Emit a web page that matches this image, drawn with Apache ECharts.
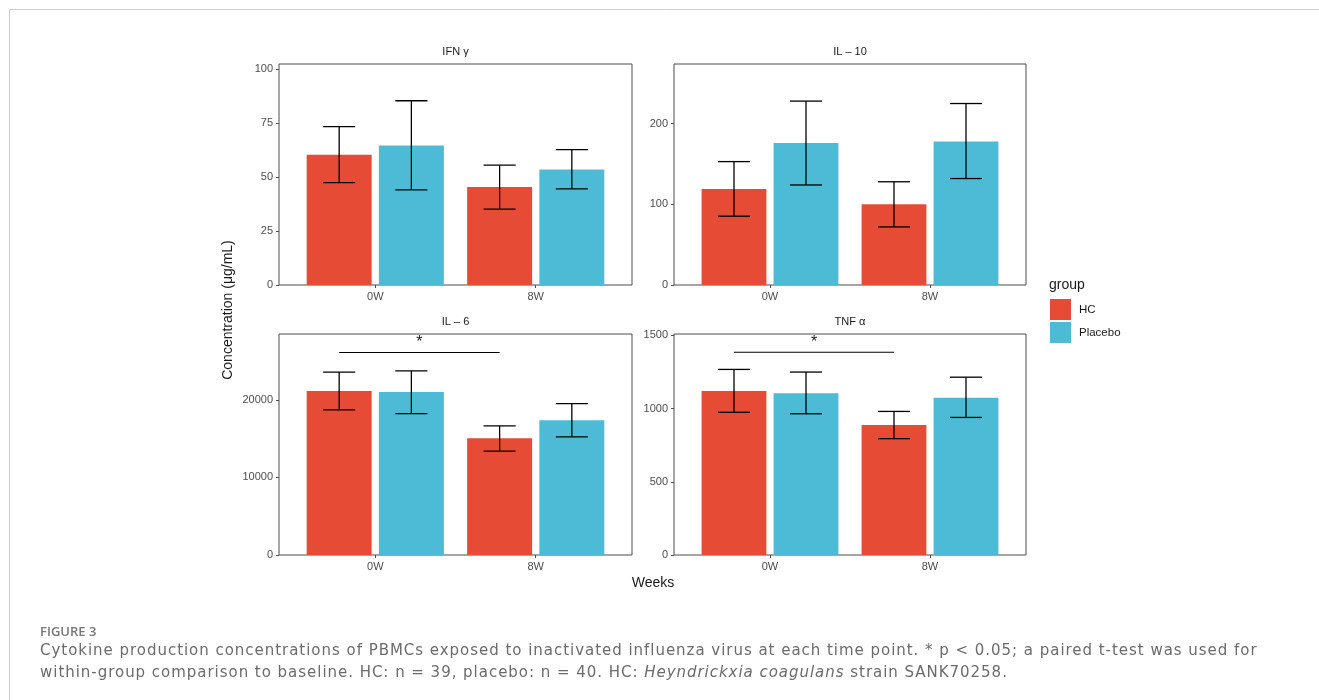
<!DOCTYPE html>
<html>
<head>
<meta charset="utf-8">
<script src="https://cdn.jsdelivr.net/npm/echarts@6/dist/echarts.min.js"></script>
<style>
  html, body { margin: 0; padding: 0; background: #fff; }
  #wrap { position: relative; width: 1319px; height: 700px; }
  #chart { width: 1319px; height: 700px; }
  .cap { position: absolute; left: 40px; color: #6b6b6b; font-family: "DejaVu Sans", sans-serif;
         font-size: 15px; letter-spacing: 0.97px; white-space: nowrap; line-height: 22px; }
  #fig { top: 620px; font-family: "Open Sans", sans-serif; font-weight: 600; font-size: 13px;
         letter-spacing: 0; color: #777; }
  #line1 { top: 639px; }
  #line2 { top: 661px; }
</style>
</head>
<body>
<div id="wrap">
<div id="chart"></div>
<div class="cap" id="fig">FIGURE 3</div>
<div class="cap" id="line1">Cytokine production concentrations of PBMCs exposed to inactivated influenza virus at each time point. * p &lt; 0.05; a paired t-test was used for</div>
<div class="cap" id="line2">within-group comparison to baseline. HC: n = 39, placebo: n = 40. HC: <i>Heyndrickxia coagulans</i> strain SANK70258.</div>
</div>
<script>
// categories and facet titles
var weeks = ['0W', '8W'];
var groups = ['HC', 'Placebo'];
var panelTitles = ['IFN \u03b3', 'IL \u2013 10', 'IL \u2013 6', 'TNF \u03b1'];

// rows per week: [mean, lower, upper]
var ifnHC      = [[60.3, 47.4, 73.3], [45.4, 35.1, 55.5]];
var ifnPlacebo = [[64.6, 44.0, 85.3], [53.5, 44.5, 62.7]];
var il10HC      = [[119, 85.3, 153], [100, 72.0, 128]];
var il10Placebo = [[176, 124, 228], [178, 132, 225]];
var il6HC      = [[21120, 18710, 23570], [15050, 13380, 16650]];
var il6Placebo = [[20990, 18230, 23740], [17380, 15230, 19520]];
var tnfHC      = [[1120, 975, 1268], [888, 795, 981]];
var tnfPlacebo = [[1105, 965, 1250], [1075, 940, 1215]];

// y tick labels per panel
var ifnTicks = [0, 25, 50, 75, 100];
var il10Ticks = [0, 100, 200];
var il6Ticks = [0, 10000, 20000];
var tnfTicks = [0, 500, 1000, 1500];

// significance brackets: [from x, to x, y]
var il6Sig = [0.775, 1.775, 26100];
var tnfSig = [0.775, 1.775, 1385];

var colors = ['#E64B35', '#4DBBD5'];
var font = '"Liberation Sans", Arial, sans-serif';
var dodge = 0.225, barW = 0.405, capW = 0.2;

var chart = echarts.init(document.getElementById('chart'));

var boxes = [
    {left: 279, top: 64, width: 353, height: 221},
    {left: 674, top: 64, width: 352, height: 221},
    {left: 279, top: 334, width: 353, height: 221},
    {left: 674, top: 334, width: 352, height: 221}
];
var yMax = [102.3, 274, 28480, 1510];
var tickSets = [ifnTicks, il10Ticks, il6Ticks, tnfTicks];
var panelData = [
    [ifnHC, ifnPlacebo],
    [il10HC, il10Placebo],
    [il6HC, il6Placebo],
    [tnfHC, tnfPlacebo]
];

function toRows(rows) {
    return rows.map(function (r, i) { return [i + 1, r[0], r[1], r[2]]; });
}

function barItem(offset, color) {
    return function (params, api) {
        var x = api.value(0) + offset;
        var top = api.coord([x - barW / 2, api.value(1)]);
        var base = api.coord([x + barW / 2, 0]);
        var lo = api.coord([x, api.value(2)]);
        var hi = api.coord([x, api.value(3)]);
        var cl = api.coord([x - capW / 2, 0])[0];
        var cr = api.coord([x + capW / 2, 0])[0];
        var line = {stroke: '#000', lineWidth: 1.3};
        return {
            type: 'group',
            children: [
                {type: 'rect', shape: {x: top[0], y: top[1], width: base[0] - top[0], height: base[1] - top[1]},
                 style: {fill: color}},
                {type: 'line', shape: {x1: lo[0], y1: lo[1], x2: hi[0], y2: hi[1]}, style: line},
                {type: 'line', shape: {x1: cl, y1: lo[1], x2: cr, y2: lo[1]}, style: line},
                {type: 'line', shape: {x1: cl, y1: hi[1], x2: cr, y2: hi[1]}, style: line}
            ]
        };
    };
}

function sigItem(params, api) {
    var a = api.coord([api.value(0), api.value(2)]);
    var b = api.coord([api.value(1), api.value(2)]);
    return {
        type: 'group',
        children: [
            {type: 'line', shape: {x1: a[0], y1: a[1], x2: b[0], y2: b[1]}, style: {stroke: '#000', lineWidth: 1.1}},
            {type: 'text', x: (a[0] + b[0]) / 2, y: a[1] - 2,
             style: {text: '*', fill: '#1a1a1a', font: '16px ' + font, align: 'center', verticalAlign: 'bottom'}}
        ]
    };
}

var grids = [], xAxes = [], yAxes = [], series = [], titles = [];

boxes.forEach(function (b, p) {
    grids.push({left: b.left, top: b.top, width: b.width, height: b.height,
                show: true, borderColor: '#4d4d4d', borderWidth: 1, backgroundColor: '#fff'});
    xAxes.push({
        type: 'value', gridIndex: p, min: 0.4, max: 2.6,
        axisLine: {show: false}, splitLine: {show: false},
        axisTick: {show: true, length: 3, customValues: [1, 2], lineStyle: {color: '#4d4d4d'}},
        axisLabel: {customValues: [1, 2], margin: 6, color: '#4d4d4d', fontSize: 11, fontFamily: font,
                    formatter: function (v) { return weeks[Math.round(v) - 1]; }}
    });
    yAxes.push({
        type: 'value', gridIndex: p, min: 0, max: yMax[p],
        axisLine: {show: false}, splitLine: {show: false},
        axisTick: {show: true, length: 3, customValues: tickSets[p], lineStyle: {color: '#4d4d4d'}},
        axisLabel: {customValues: tickSets[p], margin: 6, color: '#4d4d4d', fontSize: 11, fontFamily: font,
                    formatter: function (v) { return String(v); }}
    });
    groups.forEach(function (g, k) {
        series.push({
            type: 'custom', name: g, xAxisIndex: p, yAxisIndex: p,
            itemStyle: {color: colors[k]},
            renderItem: barItem(k === 0 ? -dodge : dodge, colors[k]),
            encode: {x: 0, y: [1, 2, 3]},
            data: toRows(panelData[p][k]),
            silent: true
        });
    });
    titles.push({
        type: 'text', x: b.left + b.width / 2, y: b.top - 12,
        style: {text: panelTitles[p], fill: '#1a1a1a', font: '11px ' + font, align: 'center', verticalAlign: 'middle'}
    });
});

[[2, il6Sig], [3, tnfSig]].forEach(function (s) {
    series.push({
        type: 'custom', xAxisIndex: s[0], yAxisIndex: s[0],
        renderItem: sigItem, encode: {x: [0, 1], y: 2},
        data: [s[1]], silent: true, z: 5
    });
});

var option = {
    animation: false,
    backgroundColor: '#fff',
    grid: grids,
    xAxis: xAxes,
    yAxis: yAxes,
    legend: {
        data: [{name: 'HC', icon: 'rect'}, {name: 'Placebo', icon: 'rect'}],
        orient: 'vertical', left: 1050, top: 299, padding: 0,
        itemWidth: 21, itemHeight: 21, itemGap: 2,
        selectedMode: false,
        textStyle: {color: '#1a1a1a', fontSize: 11.5, fontFamily: font, padding: [0, 0, 0, 3]}
    },
    graphic: titles.concat([
        {type: 'polyline', shape: {points: [[9.5, 700], [9.5, 9.5], [1319, 9.5]]},
         style: {stroke: '#cfcfcf', lineWidth: 1, fill: null}},
        {type: 'text', x: 1049, y: 285,
         style: {text: 'group', fill: '#1a1a1a', font: '14px ' + font, verticalAlign: 'middle'}},
        {type: 'text', x: 228, y: 310, rotation: Math.PI / 2,
         style: {text: 'Concentration (\u03bcg/mL)', fill: '#1a1a1a', font: '14px ' + font,
                 align: 'center', verticalAlign: 'middle'}},
        {type: 'text', x: 653, y: 583,
         style: {text: 'Weeks', fill: '#1a1a1a', font: '14px ' + font, align: 'center', verticalAlign: 'middle'}}
    ]),
    series: series
};

chart.setOption(option);
</script>
</body>
</html>
